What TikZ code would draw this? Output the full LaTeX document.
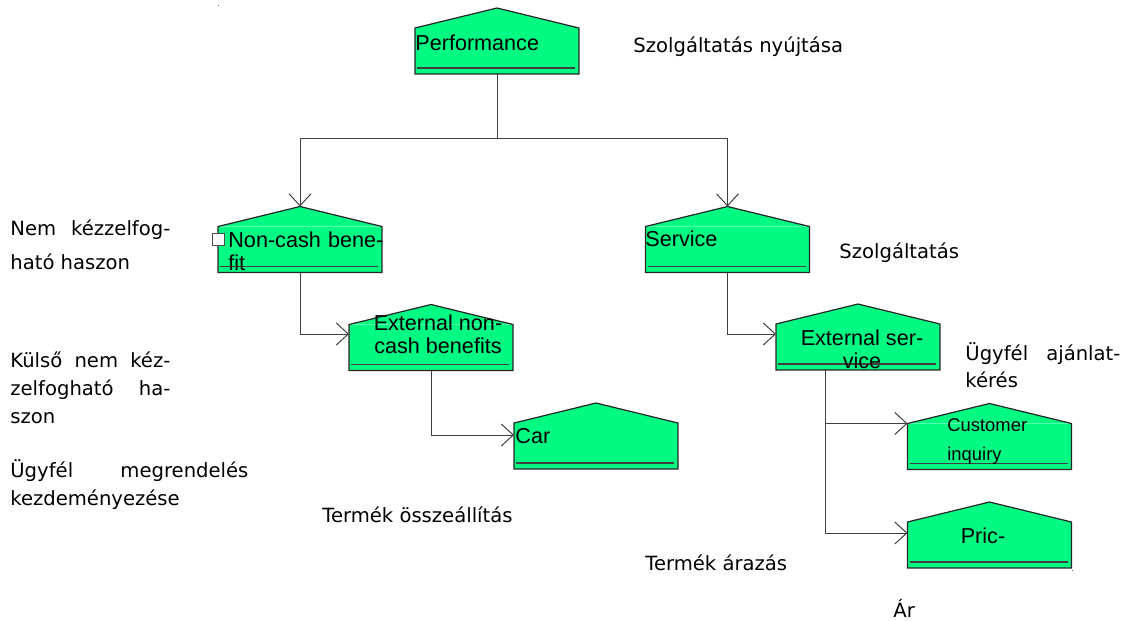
\documentclass[tikz,border=0pt]{standalone}
\usepackage{fontspec}
\setmainfont{Liberation Sans}
\newfontfamily\notefont{DejaVu Sans}
\usetikzlibrary{arrows.meta}
\definecolor{housegreen}{RGB}{0,250,130}

\newcommand{\houseframe}[1]{%
  \fill[housegreen] (#1.north west) -- ([yshift=10pt]#1.north) -- (#1.north east) -- cycle;
  \draw[houseline] (#1.south west) -- (#1.north west) -- ([yshift=10pt]#1.north) coordinate (#1-top)
    -- (#1.north east) -- (#1.south east) -- cycle;
  \draw[footline] ([xshift=1pt,yshift=3pt]#1.south west) -- ([xshift=-2pt,yshift=3pt]#1.south east);}

\begin{document}
\begin{tikzpicture}[
      x=0.5pt, y=-0.5pt,
      house/.style={fill=housegreen, minimum width=82pt, minimum height=23pt, inner sep=0pt, outer sep=0pt},
      houseline/.style={draw=black!85, line width=0.6pt, line join=miter},
      footline/.style={draw=black!75, line width=0.6pt},
      link/.style={draw=black!75, line width=0.5pt},
      arrow/.style={link, -{Straight Barb[length=6pt, width=11pt, line width=0.5pt]}},
      boxtxt/.style={font=\fontsize{10.8}{11.5}\selectfont, inner sep=0pt, anchor=base west, align=left},
      note/.style={font=\notefont\fontsize{9.8}{14}\selectfont, inner sep=0pt, anchor=base west, align=left}
    ]
    \useasboundingbox (0,0) rectangle (1131,621);

    \node[house] (perf) at (497,51) {};
    \node[house] (noncash) at (300,249.5) {};
    \node[house] (service) at (727.5,249.5) {};
    \node[house] (extnon) at (431,347.5) {};
    \node[house] (extsvc) at (858,347) {};
    \node[house] (car) at (596,446) {};
    \node[house] (cust) at (989.5,446.5) {};
    \node[house] (pric) at (989.5,545) {};
    \foreach \n in {perf,noncash,service,extnon,extsvc,car,cust,pric}
      {\houseframe{\n}}

    \node[draw=black!70, fill=white, minimum size=6pt, inner sep=0pt] (nc-mark) at (218,239) {};

    \node[boxtxt] (perf-txt) at (415,50) {Performance};
    \node[boxtxt] (noncash-txt) at (228,270) {\makebox[77.5pt][s]{Non-cash bene-}\\fit};
    \node[boxtxt] (service-txt) at (645,246) {Service};
    \node[boxtxt, anchor=base, align=center] (extnon-txt) at (438,353) {External non-\\cash benefits};
    \node[boxtxt, anchor=base, align=center] (extsvc-txt) at (862,368) {External ser-\\vice};
    \node[boxtxt] (car-txt) at (515,443) {Car};
    \node[boxtxt, font=\fontsize{9.2}{14.5}\selectfont] (cust-txt) at (947,460) {Customer\\inquiry};
    \node[boxtxt, anchor=base] (pric-txt) at (983,543) {Pric-};

    \coordinate (split) at (497,138);
    \draw[link] (perf.south) -- (split);
    \draw[arrow] (split) -| (noncash-top);
    \draw[arrow] (split) -| (service-top);
    \draw[arrow] (noncash.south) |- ([yshift=6.75pt]extnon.west);
    \draw[arrow] (extnon.south) |- ([yshift=5.5pt]car.west);
    \draw[arrow] (service.south) |- ([yshift=6.5pt]extsvc.west);
    \coordinate (stem) at ([xshift=-16.5pt]extsvc.south);
    \draw[arrow] (stem) |- (cust.north west);
    \draw[arrow] (stem) |- ([yshift=6pt]pric.west);

    \node[note] (n-perf) at (633,53) {Szolgáltatás nyújtása};
    \node[note] (n-service) at (839,258) {Szolgáltatás};
    \node[note] (n-noncash) at (10,269) {\makebox[80pt][s]{Nem kézzelfog-}\\[3pt]ható haszon};
    \node[note] (n-extnon) at (10,423) {\makebox[80pt][s]{Külső nem kéz-}\\\makebox[80pt][s]{zelfogható ha-}\\szon};
    \node[note] (n-order) at (10,505) {\makebox[119pt][s]{Ügyfél megrendelés}\\kezdeményezése};
    \node[note, font=\notefont\fontsize{9.8}{13.5}\selectfont] (n-extsvc) at (965,387) {\makebox[77.5pt][s]{Ügyfél ajánlat-}\\kérés};
    \node[note] (n-car) at (322,522) {Termék összeállítás};
    \node[note] (n-pric) at (645,570) {Termék árazás};
    \node[note] (n-ar) at (893,617) {Ár};

    \fill[black!60] (217.5,4.5) rectangle (218.5,5.5);
    \fill[black!60] (1071.5,569.5) rectangle (1072.5,570.5);
  \end{tikzpicture}
\end{document}
